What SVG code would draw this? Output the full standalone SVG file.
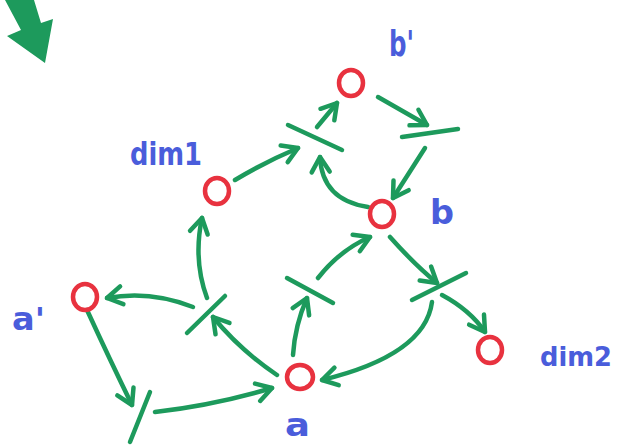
<svg xmlns="http://www.w3.org/2000/svg" width="623" height="445" viewBox="0 0 623 445">
<style>
.edge{fill:none;stroke:#1d9a5c;stroke-width:4.5;stroke-linecap:round;marker-end:url(#ah)}
.bar{fill:none;stroke:#1d9a5c;stroke-width:4.5;stroke-linecap:round}
.place{fill:none;stroke:#e8323f;stroke-width:4.5}
.lbl{font-family:"DejaVu Sans",sans-serif;font-weight:bold;fill:#4a5ddb}
</style>
<defs>
<marker id="ah" viewBox="0 0 20 20" refX="17" refY="10" markerWidth="20" markerHeight="20" markerUnits="userSpaceOnUse" orient="auto" overflow="visible">
<path d="M2,1 L17,10 L2,19" fill="none" stroke="#1d9a5c" stroke-width="4.5" stroke-linecap="round" stroke-linejoin="round"/>
</marker>
</defs>
<rect width="623" height="445" fill="#ffffff"/>
<polygon id="bigarrow" points="5,0 34,0 41,23 53,19 45,63 7,36 21,30" fill="#1d9a5c"/>
<g id="connectors">
<path class="edge" d="M235,180 Q265,162 298,148"/>
<path class="edge" d="M317,127 L337,103"/>
<path class="edge" d="M378,97 L427,125"/>
<path class="edge" d="M425,148 L393,198"/>
<path class="edge" d="M368,207 Q322,200 320,157"/>
<path class="edge" d="M318,278 Q340,250 370,237"/>
<path class="edge" d="M293,355 Q295,325 307,298"/>
<path class="edge" d="M277,375 Q240,350 213,317"/>
<path class="edge" d="M207,298 Q193,260 202,218"/>
<path class="edge" d="M193,307 Q150,290 107,298"/>
<path class="edge" d="M87,310 Q110,360 132,405"/>
<path class="edge" d="M155,412 Q215,405 272,388"/>
<path class="edge" d="M390,237 Q415,265 437,283"/>
<path class="edge" d="M442,295 Q470,310 485,332"/>
<path class="edge" d="M432,302 Q425,355 322,380"/>
</g>
<g id="t1"><path class="bar" d="M288,125 L342,150"/></g>
<g id="t2"><path class="bar" d="M402,137 L458,129"/></g>
<g id="t3"><path class="bar" d="M187,333 L225,296"/></g>
<g id="t4"><path class="bar" d="M287,278 L333,303"/></g>
<g id="t5"><path class="bar" d="M150,392 L130,442"/></g>
<g id="t6"><path class="bar" d="M412,300 L466,273"/></g>
<g id="p_bprime"><ellipse class="place" cx="351" cy="83" rx="12" ry="13"/><text class="lbl" x="389" y="56" font-size="36" textLength="25" lengthAdjust="spacingAndGlyphs">b'</text></g>
<g id="p_dim1"><ellipse class="place" cx="217" cy="191" rx="12" ry="13"/><text class="lbl" x="130" y="165" font-size="32" textLength="72" lengthAdjust="spacingAndGlyphs">dim1</text></g>
<g id="p_b"><ellipse class="place" cx="382" cy="214" rx="12" ry="13"/><text class="lbl" x="430" y="224" font-size="34" textLength="24" lengthAdjust="spacingAndGlyphs">b</text></g>
<g id="p_aprime"><ellipse class="place" cx="85" cy="297" rx="12" ry="13"/><text class="lbl" x="12" y="330" font-size="32" textLength="33" lengthAdjust="spacingAndGlyphs">a'</text></g>
<g id="p_a"><ellipse class="place" cx="300" cy="377" rx="13" ry="12"/><text class="lbl" x="285" y="436" font-size="32" textLength="25" lengthAdjust="spacingAndGlyphs">a</text></g>
<g id="p_dim2"><ellipse class="place" cx="490" cy="350" rx="12" ry="13"/><text class="lbl" x="540" y="366" font-size="27" textLength="72" lengthAdjust="spacingAndGlyphs">dim2</text></g>
</svg>
